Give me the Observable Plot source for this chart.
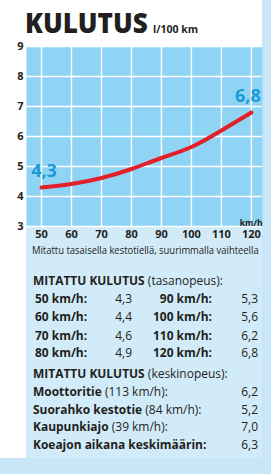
<!DOCTYPE html>
<html>
<head>
<meta charset="utf-8">
<script src="https://cdn.jsdelivr.net/npm/d3@7"></script>
<script src="https://cdn.jsdelivr.net/npm/@observablehq/plot@0.6"></script>
<style>
  html, body { margin: 0; padding: 0; background: #fff; }
  #wrap { position: relative; width: 271px; height: 474px; overflow: hidden; background: #fff; font-family: "Open Sans", sans-serif; }
  .bg { position: absolute; }
  #plot, #overlay { position: absolute; left: 0; top: 0; }
  #overlay { pointer-events: none; }
</style>
</head>
<body>
<div id="wrap">
  <div class="bg" style="left:262px;top:0;width:9px;height:474px;background:#c8e6f8"></div>
  <div class="bg" style="left:26px;top:226px;width:236px;height:232px;background:#d2ebf9"></div>
  <div class="bg" style="left:0;top:458px;width:271px;height:16px;background:#c8e6f8"></div>
  <div id="plot"></div>
  <svg id="overlay" width="271" height="474"></svg>
</div>
<script>
// ---- data ----
const speeds = [50, 60, 70, 80, 90, 100, 110, 120];
const consumption = [4.3, 4.4, 4.6, 4.9, 5.3, 5.6, 6.2, 6.8];
const yTicks = [3, 4, 5, 6, 7, 8, 9];
const routeNames = ["Moottoritie", "Suorahko kestotie", "Kaupunkiajo"];
const routeSpeeds = [113, 84, 39];
const routeConsumption = [6.2, 5.2, 7.0];
const averageLabel = "Koeajon aikana keskimäärin:";
const averageConsumption = 6.3;
const titleText = "KULUTUS";
const unitText = "l/100 km";
const xUnitText = "km/h";
const captionText = "Mitattu tasaisella kestotiellä, suurimmalla vaihteella";
const headingText = "MITATTU KULUTUS";
const heading1Sub = "(tasanopeus):";
const heading2Sub = "(keskinopeus):";

const fmt = v => v.toFixed(1).replace(".", ",");
const data = speeds.map((s, i) => ({speed: s, value: consumption[i]}));
const first = [data[0]];
const last = [data[data.length - 1]];

const ink = "#231f20";
const labelBlue = "#1a9ad6";
const plot = Plot.plot({
  width: 271,
  height: 250,
  marginTop: 46,
  marginLeft: 26,
  marginRight: 9,
  marginBottom: 24,
  style: {background: "transparent", fontFamily: "Open Sans, sans-serif", overflow: "visible"},
  x: {domain: [45, 123.7]},
  y: {domain: [3, 9]},
  marks: [
    Plot.frame({fill: "#8fd4f5", stroke: null}),
    Plot.gridX(speeds, {stroke: "#ffffff", strokeOpacity: 1, strokeWidth: 1.4}),
    Plot.gridY(yTicks, {stroke: "#ffffff", strokeOpacity: 1, strokeWidth: 1.4}),
    Plot.axisY(yTicks, {tickSize: 0, tickPadding: 3, fontSize: 11, fontWeight: "bold", fill: ink, label: null}),
    Plot.axisX(speeds, {tickSize: 0, tickPadding: 4, fontSize: 11, fontWeight: "bold", fill: ink, label: null}),
    Plot.line(data, {x: "speed", y: "value", curve: "basis", stroke: "#e3202a", strokeWidth: 4, strokeLinecap: "round"}),
    Plot.text(first, {x: "speed", y: "value", text: d => fmt(d.value), fill: labelBlue, fontSize: 18, fontWeight: "bold", dy: -16, dx: 2.5}),
    Plot.text(last, {x: "speed", y: "value", text: d => fmt(d.value), fill: labelBlue, fontSize: 18, fontWeight: "bold", dy: -16, dx: -3.5}),
    Plot.text([xUnitText], {frameAnchor: "bottom-right", text: d => d, textAnchor: "end", lineAnchor: "bottom", dy: -1, fontSize: 8.5, fontWeight: "bold", fill: ink})
  ]
});
document.getElementById("plot").appendChild(plot);

// ---- overlay text ----
const svg = document.getElementById("overlay");
const NS = "http://www.w3.org/2000/svg";
// one <text> per run of same weight; runs are laid out left to right with a word gap
function txt(parts, x, y, opts = {}) {
  const {anchor = "start", size = 13, sx = 0.92, fill = ink} = opts;
  const gap = size * 0.26 * sx;
  const els = parts.map(([s, w]) => {
    const t = document.createElementNS(NS, "text");
    t.setAttribute("font-size", size);
    t.setAttribute("font-weight", w);
    t.setAttribute("fill", fill);
    t.setAttribute("font-family", "Open Sans, sans-serif");
    t.textContent = s;
    svg.appendChild(t);
    return t;
  });
  const widths = els.map(t => t.getComputedTextLength() * sx);
  const total = widths.reduce((a, b) => a + b, 0) + gap * (els.length - 1);
  let cx = anchor === "end" ? x - total : anchor === "middle" ? x - total / 2 : x;
  els.forEach((t, i) => {
    t.setAttribute("transform", `translate(${cx},${y}) scale(${sx},1)`);
    cx += widths[i] + gap;
  });
}

txt([[titleText, 800]], 25, 33, {size: 29, sx: 0.9});
txt([[unitText, 700]], 153, 33, {size: 10.5, sx: 1.0});
txt([[captionText, 400]], 32, 254, {size: 10.5, sx: 0.9});

// table 1
txt([[headingText, 700], [heading1Sub, 400]], 33, 284.5);
const rowY1 = [303, 321, 339.5, 357];
for (let i = 0; i < 4; i++) {
  txt([[`${speeds[i]} km/h:`, 700]], 35, rowY1[i]);
  txt([[fmt(consumption[i]), 400]], 132, rowY1[i], {anchor: "end"});
  txt([[`${speeds[i + 4]} km/h:`, 700]], 212, rowY1[i], {anchor: "end"});
  txt([[fmt(consumption[i + 4]), 400]], 258, rowY1[i], {anchor: "end"});
}

// table 2
txt([[headingText, 700], [heading2Sub, 400]], 33, 378);
const rowY2 = [396, 413.5, 431, 448.5];
routeNames.forEach((n, i) => {
  txt([[n, 700], [`(${routeSpeeds[i]} km/h):`, 400]], 33, rowY2[i]);
  txt([[fmt(routeConsumption[i]), 400]], 258, rowY2[i], {anchor: "end"});
});
txt([[averageLabel, 700]], 33, rowY2[3]);
txt([[fmt(averageConsumption), 400]], 258, rowY2[3], {anchor: "end"});
</script>
</body>
</html>
